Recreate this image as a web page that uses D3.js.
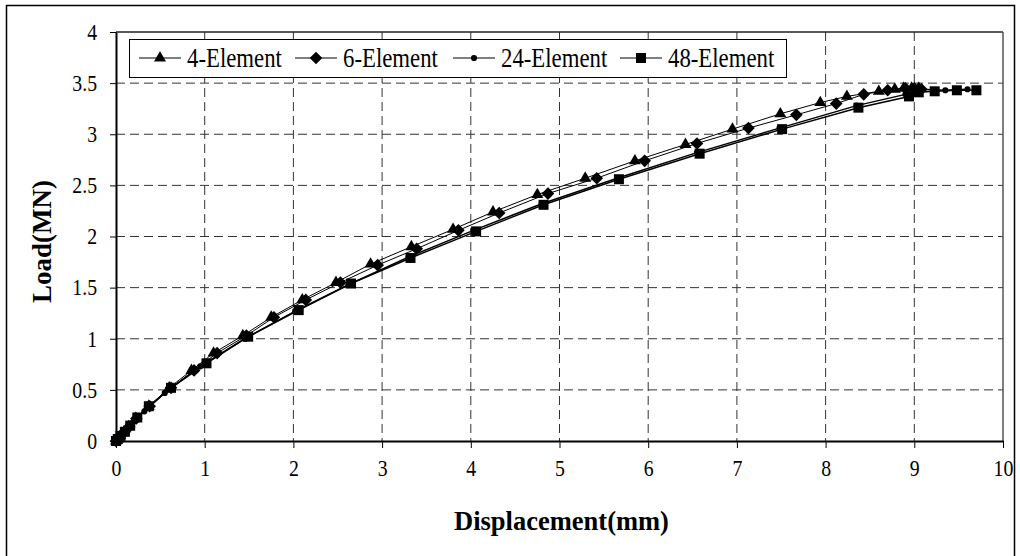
<!DOCTYPE html>
<html><head><meta charset="utf-8">
<script src="https://cdn.jsdelivr.net/npm/d3@7"></script>
<style>body{margin:0;background:#fff}svg{display:block}</style>
</head><body>
<svg id="c" width="1020" height="556"></svg>
<script>
const xTicks=[0,1,2,3,4,5,6,7,8,9,10];
const yTicks=[0,0.5,1,1.5,2,2.5,3,3.5,4];
const yTickLabels=["0","0.5","1","1.5","2","2.5","3","3.5","4"];
const seriesNames=["4-Element","6-Element","24-Element","48-Element"];
const e4x=[0,0.02,0.05,0.09,0.14,0.22,0.37,0.6,0.85,1.1,1.43,1.75,2.1,2.48,2.87,3.33,3.8,4.25,4.75,5.29,5.85,6.42,6.95,7.49,7.94,8.24,8.6,8.78,8.88,8.97,9.05];
const e4y=[0,0.02,0.05,0.09,0.14,0.22,0.34,0.52,0.69,0.86,1.03,1.21,1.38,1.55,1.73,1.9,2.07,2.24,2.41,2.57,2.74,2.9,3.05,3.2,3.31,3.37,3.42,3.44,3.45,3.45,3.45];
const e6x=[0,0.02,0.05,0.1,0.15,0.23,0.38,0.62,0.88,1.14,1.47,1.78,2.14,2.53,2.95,3.39,3.86,4.32,4.87,5.42,5.96,6.55,7.13,7.67,8.12,8.43,8.7,8.9,9.0,9.08];
const e6y=[0,0.02,0.05,0.09,0.14,0.22,0.34,0.52,0.69,0.86,1.03,1.21,1.38,1.55,1.72,1.88,2.06,2.23,2.42,2.57,2.74,2.91,3.06,3.19,3.3,3.39,3.43,3.45,3.45,3.44];
const e24x=[0,0.03,0.07,0.12,0.2,0.32,0.55,0.95,1.45,2.02,2.62,3.3,4.03,4.8,5.65,6.55,7.48,8.35,8.9,9.05,9.35,9.6];
const e24y=[0,0.03,0.07,0.12,0.19,0.29,0.47,0.73,1.0,1.27,1.53,1.8,2.06,2.32,2.57,2.82,3.06,3.28,3.39,3.44,3.43,3.44];
const e48x=[0,0.02,0.05,0.1,0.16,0.24,0.37,0.62,1.02,1.49,2.06,2.65,3.32,4.06,4.82,5.67,6.58,7.51,8.37,8.94,9.05,9.23,9.48,9.7];
const e48y=[0,0.02,0.05,0.09,0.15,0.23,0.34,0.52,0.76,1.02,1.28,1.54,1.79,2.05,2.31,2.56,2.81,3.05,3.26,3.37,3.41,3.42,3.43,3.43];

const L=116,R=1003,T=32,B=441;
const svg=d3.select("#c");
const x=d3.scaleLinear().domain([0,10]).range([L,R]);
const y=d3.scaleLinear().domain([0,4]).range([B,T]);
const font="'Liberation Serif','Times New Roman',serif";

// outer border
svg.append("rect").attr("x",6.5).attr("y",5.5).attr("width",1008).attr("height",570)
  .attr("fill","none").attr("stroke","#000").attr("stroke-width",1.5);

// gridlines
const g=svg.append("g");
g.selectAll(".vg").data(xTicks.filter(d=>d>0&&d<10)).join("line")
  .attr("x1",d=>x(d)).attr("x2",d=>x(d)).attr("y1",T).attr("y2",B)
  .attr("stroke","#333").attr("stroke-width",1).attr("stroke-dasharray","9,5");
g.selectAll(".hg").data(yTicks.filter(d=>d>0&&d<4)).join("line")
  .attr("x1",L).attr("x2",R).attr("y1",d=>y(d)).attr("y2",d=>y(d))
  .attr("stroke","#333").attr("stroke-width",1).attr("stroke-dasharray","9,5");

// frame top/right
svg.append("line").attr("x1",L).attr("x2",R).attr("y1",T).attr("y2",T).attr("stroke","#222").attr("stroke-width",1.5);
svg.append("line").attr("x1",R).attr("x2",R).attr("y1",T).attr("y2",B).attr("stroke","#555").attr("stroke-width",1.5);

// axes
const sx=0.86;
const xAxis=d3.axisBottom(x).tickValues(xTicks).tickSize(7).tickSizeOuter(0).tickPadding(14).tickFormat(d3.format("d"));
const gx=svg.append("g").attr("transform",`translate(0,${B})`).call(xAxis);
const yAxis=d3.axisLeft(y).tickValues(yTicks).tickSize(6).tickSizeOuter(0).tickPadding(14).tickFormat((d,i)=>yTickLabels[i]);
const gy=svg.append("g").attr("transform",`translate(${L},0)`).call(yAxis);
[gx,gy].forEach(a=>{
  a.select(".domain").attr("stroke","#000").attr("stroke-width",2);
  a.selectAll(".tick line").attr("stroke","#000").attr("stroke-width",1);
  a.selectAll("text").attr("font-family",font).attr("font-size",23).attr("fill","#000");
});
gx.selectAll("text").attr("transform",`scale(${sx},1)`).attr("y",19).attr("dy","0.71em");
gy.selectAll("text").attr("transform",`scale(${sx},1)`).attr("x",-19/sx);

// series
const diamond={draw(ctx,size){const r=Math.sqrt(size/2);ctx.moveTo(0,-r);ctx.lineTo(r,0);ctx.lineTo(0,r);ctx.lineTo(-r,0);ctx.closePath();}};
const sym={tri:d3.symbol().type(d3.symbolTriangle).size(62),
  dia:d3.symbol().type(diamond).size(80),
  cir:d3.symbol().type(d3.symbolCircle).size(30),
  sq:d3.symbol().type(d3.symbolSquare).size(100)};
const series=[
  {xs:e4x,ys:e4y,s:sym.tri,w:1},
  {xs:e6x,ys:e6y,s:sym.dia,w:1},
  {xs:e24x,ys:e24y,s:sym.cir,w:1.5},
  {xs:e48x,ys:e48y,s:sym.sq,w:1.5}];
const line=d3.line().x(d=>x(d[0])).y(d=>y(d[1]));
series.forEach(s=>{
  const pts=s.xs.map((v,i)=>[v,s.ys[i]]);
  svg.append("path").attr("d",line(pts)).attr("fill","none").attr("stroke","#000").attr("stroke-width",s.w);
});
series.forEach(s=>{
  const pts=s.xs.map((v,i)=>[v,s.ys[i]]);
  svg.append("g").selectAll("path").data(pts).join("path")
    .attr("d",s.s).attr("transform",d=>`translate(${x(d[0])},${y(d[1])})`).attr("fill","#000");
});

// legend
svg.append("rect").attr("x",129.5).attr("y",39.5).attr("width",657).attr("height",38)
  .attr("fill","#fff").attr("stroke","#000").attr("stroke-width",1);
const legX=[139,295,453,620];
const legSym=[sym.tri,sym.dia,sym.cir,sym.sq];
seriesNames.forEach((n,i)=>{
  const lx=legX[i], ly=58;
  svg.append("line").attr("x1",lx).attr("x2",lx+42).attr("y1",ly).attr("y2",ly).attr("stroke","#000").attr("stroke-width",1.2);
  svg.append("path").attr("d",legSym[i]).attr("transform",`translate(${lx+21},${ly})`).attr("fill","#000");
  svg.append("text").attr("transform",`translate(${lx+48},${ly+9}) scale(0.86,1)`).text(n)
    .attr("font-family",font).attr("font-size",26.5).attr("fill","#000");
});

// titles
svg.append("text").attr("x",(L+R)/2+2).attr("y",530).attr("text-anchor","middle")
  .attr("font-family",font).attr("font-weight","bold").attr("font-size",26.5).text("Displacement(mm)");
svg.append("text").attr("transform",`translate(51,${(T+B)/2+5}) rotate(-90)`).attr("text-anchor","middle")
  .attr("font-family",font).attr("font-weight","bold").attr("font-size",27).text("Load(MN)");
</script>
</body></html>
